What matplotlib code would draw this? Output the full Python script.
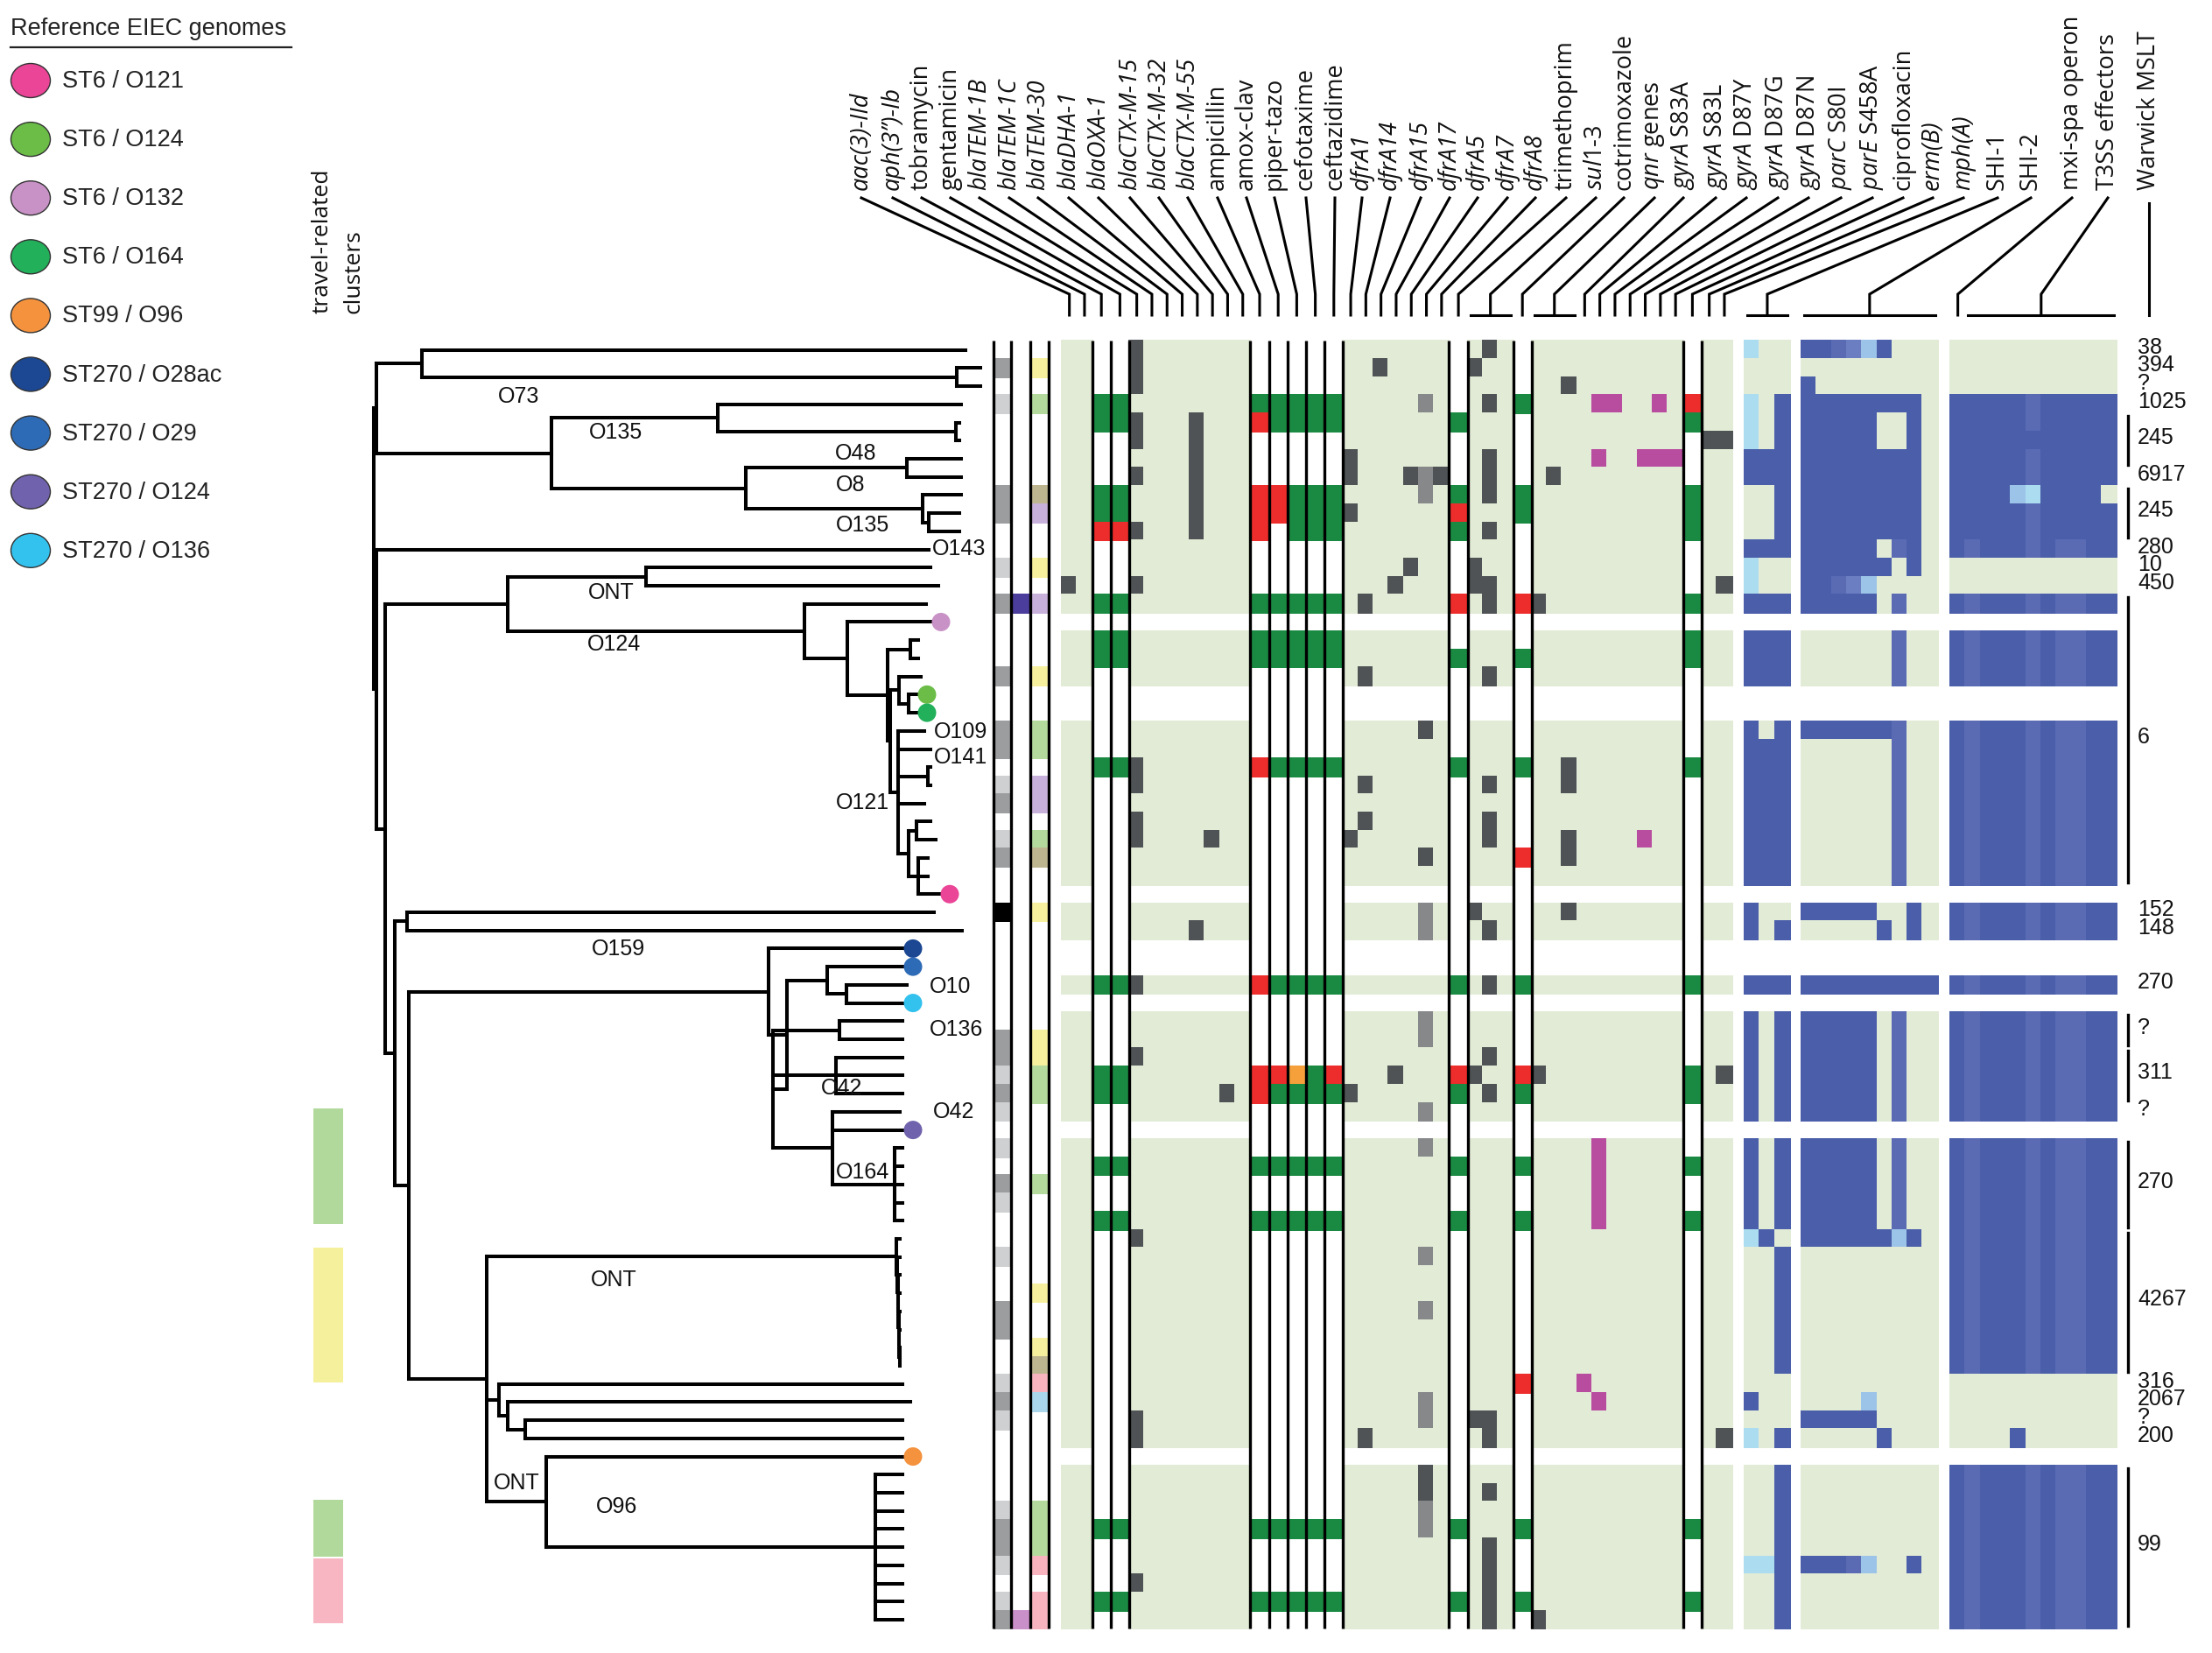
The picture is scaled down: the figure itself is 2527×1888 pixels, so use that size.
import matplotlib
matplotlib.use("Agg")
import matplotlib.pyplot as plt
from matplotlib.patches import Rectangle, Ellipse
import numpy as np

plt.rcParams['font.family'] = ['Liberation Sans', 'DejaVu Sans']
plt.rcParams['mathtext.fontset'] = 'custom'
plt.rcParams['mathtext.rm'] = 'Open Sans'
plt.rcParams['mathtext.it'] = 'Open Sans:italic'

# ======================= DATA =======================
legend_title = "Reference EIEC genomes"
legend_labels = ["ST6 / O121", "ST6 / O124", "ST6 / O132", "ST6 / O164", "ST99 / O96",
                 "ST270 / O28ac", "ST270 / O29", "ST270 / O124", "ST270 / O136"]
legend_colors = ["#ea4597", "#6bbd47", "#c892c6", "#22b05a", "#f4923e",
                 "#1b4793", "#2e6bb6", "#7162ad", "#33c1ee"]

header_labels = [
    "*aac(3)-IId*", "*aph(3\u201d)-Ib*", "tobramycin", "gentamicin",
    "*blaTEM-1B*", "*blaTEM-1C*", "*blaTEM-30*", "*blaDHA-1*", "*blaOXA-1*",
    "*blaCTX-M-15*", "*blaCTX-M-32*", "*blaCTX-M-55*",
    "ampicillin", "amox-clav", "piper-tazo", "cefotaxime", "ceftazidime",
    "*dfrA1*", "*dfrA14*", "*dfrA15*", "*dfrA17*", "*dfrA5*", "*dfrA7*", "*dfrA8*",
    "trimethoprim", "*sul1*-3", "cotrimoxazole", "*qnr* genes",
    "*gyrA* S83A", "*gyrA* S83L", "*gyrA* D87Y", "*gyrA* D87G", "*gyrA* D87N",
    "*parC* S80I", "*parE* S458A", "ciprofloxacin", "*erm(B)*", "*mph(A)*",
    "SHI-1", "SHI-2", "mxi-spa operon", "T3SS effectors", "Warwick MSLT"]
header_ncols = [1, 1, 1, 1, 1, 1, 1, 1, 1, 1, 1, 1, 1, 1, 1, 1, 1,
                1, 1, 1, 1, 1, 1, 1, 1, 3, 1, 3, 1, 1, 1, 1, 1, 1, 1, 1, 1, 1,
                3, 9, 1, 10, 0]

amr_keys = ["aac", "aph", "tob", "gen", "T1B", "T1C", "T30", "DHA", "OXA", "C15", "C32", "C55",
            "amp", "amc", "tzp", "ctx", "caz", "d1", "d14", "d15", "d17", "d5", "d7", "d8",
            "tmp", "s1", "s2", "s3", "sxt", "q1", "q2", "q3",
            "A83A", "A83L", "A87Y", "A87G", "A87N", "C80I", "E458", "cip", "erm", "mph"]
amr_kind = "ggppggggggggpppppgggggggpgggpggggggggggpgg"

n_rows = 71
ref_rows = [15, 19, 20, 30, 33, 34, 36, 43, 61]
ref_type = [2, 1, 3, 0, 5, 6, 8, 7, 4]

amr = [
    "T1B,s2=D",
    "T1B,d15,s1=D",
    "T1B,q3=D",
    "tob,gen,amp,amc,tzp,ctx,caz,sxt=G d7=m s2=D A83L,A87Y,C80I=M cip=R",
    "tob,gen,amc,tzp,ctx,caz,tmp,cip=G amp=R T1B,OXA=D",
    "T1B,OXA,erm,mph=D",
    "OXA,d1,s2=D A83L,A87N,C80I,E458=M",
    "T1B,OXA,d1,d5,d8,s2,q2=D d7=m",
    "tob,gen,tzp,ctx,caz,tmp,sxt,cip=G amp,amc=R OXA,s2=D d7=m",
    "tob,gen,tzp,ctx,caz,sxt,cip=G amp,amc,tmp=R OXA,d1=D",
    "tzp,ctx,caz,tmp,cip=G tob,gen,amp=R T1B,OXA,s2=D",
    "",
    "d5,s1=D",
    "aac,T1B,d17,s1,s2,mph=D",
    "tob,gen,amp,amc,tzp,ctx,caz,cip=G tmp,sxt=R d14,s2,q1=D",
    "",
    "tob,gen,amp,amc,tzp,ctx,caz,cip=G",
    "tob,gen,amp,amc,tzp,ctx,caz,tmp,sxt,cip=G",
    "d14,s2=D",
    "", "",
    "d7=D",
    "",
    "tob,gen,amc,tzp,ctx,caz,tmp,sxt,cip=G amp=R T1B,q3=D",
    "T1B,d14,s2,q3=D",
    "",
    "T1B,d14,s2=D",
    "T1B,C15,d1,s2,q3=D A87N=M",
    "d7,q3=D sxt=R",
    "",
    "",
    "s1,q3=D d7=m",
    "OXA,s2=D d7=m",
    "", "",
    "tob,gen,amc,tzp,ctx,caz,tmp,sxt,cip=G amp=R T1B,s2=D",
    "",
    "d7=m",
    "d7=m",
    "T1B,s2=D",
    "tob,gen,ctx,cip=G amp,amc,caz,tmp,sxt=R tzp=O d17,s1,q1,mph=D",
    "tob,gen,amc,tzp,ctx,caz,tmp,sxt,cip=G amp=R C32,d1,s2=D",
    "d7=m",
    "",
    "d7=m A83L=M",
    "tob,gen,amp,amc,tzp,ctx,caz,tmp,sxt,cip=G A83L=M",
    "A83L=M",
    "A83L=M",
    "tob,gen,amp,amc,tzp,ctx,caz,tmp,sxt,cip=G A83L=M",
    "T1B=D",
    "d7=m",
    "", "",
    "d7=m",
    "", "", "",
    "sxt=R A83A=M",
    "d7=m A83L=M",
    "T1B,s1,s2=D d7=m",
    "T1B,d14,s2,mph=D",
    "",
    "d7=D",
    "d7,s2=D",
    "d7=m",
    "tob,gen,amp,amc,tzp,ctx,caz,tmp,sxt,cip=G d7=m",
    "s2=D",
    "s2=D",
    "T1B,s2=D",
    "tob,gen,amp,amc,tzp,ctx,caz,tmp,sxt,cip=G s2=D",
    "s2,q1=D",
]

shi1 = (["L..", "...", "...", "L.B", "L.B", "L.B", "BBB", "BBB", "..B", "..B", "..B", "BBB",
         "L..", "L..", "BBB", "---", "BBB", "BBB", "BBB", "---", "---", "B.B"] + ["BBB"] * 8 +
        ["---", "B..", "B.B", "---", "---", "BBB", "---"] + ["B.B"] * 6 + ["---"] + ["B.B"] * 5 +
        ["LB."] + ["..B"] * 7 + ["...", "B..", "...", "L.B", "---"] + ["..B"] * 5 +
        ["LLB", "..B", "..B", "..B"])
shi2 = (["BBbclB...", ".........", "B........", "BBBBBBBB.", "BBBBB..B.", "BBBBB..B."] +
        ["BBBBBBBB."] * 5 + ["BBBBB.bB.", "BBBBBB.B.", "BBbcl....", "BBBBB.b..", "---------"] +
        ["......b.."] * 3 + ["---------"] * 2 + ["BBBBBBb.."] + ["......b.."] * 8 +
        ["---------", "BBBBB..B.", ".....B.B.", "---------", "---------", "BBBBBBBBB", "---------"] +
        ["BBBBB.b.."] * 6 + ["---------"] + ["BBBBB.b.."] * 5 + ["BBBBBBlB."] +
        ["........."] * 8 + ["....l....", "BBBBB....", ".....B...", "---------"] +
        ["........."] * 5 + ["BBBbl..B.", ".........", ".........", "........."])
t3_full = "BbBBBbBbbBB"
t3ss = (["..........."] * 3 + ["BBBBBbBBBBB", "BBBBBbBBBBB", "BBBBBBBBBBB", "BBBBBbBBBBB",
         "BBBBBbBBBBB", "BBBBlLBBBB.", "BBBBBbBBBBB", "BBBBBbBBBBB", t3_full,
         "...........", "...........", t3_full, "-----------"] + [t3_full] * 41 +
        ["...........", "...........", "...........", "....B......", "-----------"] + [t3_full] * 9)

annot1 = ".G.g....GG..g.G...G" + "..GG.gG.gG..K......" + "GGgGg.g.Gg..g..GG..gGg....gGGg.gG"
annot2 = "." * 14 + "P" + "." * 55 + "V"
annot3 = ".Y.G....TL..Y.L...Y" + "..GG.LL.GT..Y......" + "YYGG....G.....Y..YTPB.....GGGP.PP"

mslt = [("38", 0, 0), ("394", 1, 1), ("?", 2, 2), ("1025", 3, 3), ("245", 4, 6), ("6917", 7, 7),
        ("245", 8, 10), ("280", 11, 11), ("10", 12, 12), ("450", 13, 13), ("6", 14, 29),
        ("152", 31, 31), ("148", 32, 32), ("270", 35, 35), ("?", 37, 38), ("311", 39, 41),
        ("?", 42, 42), ("270", 44, 48), ("4267", 49, 56), ("316", 57, 57), ("2067", 58, 58),
        ("?", 59, 59), ("200", 60, 60), ("99", 62, 70)]

travel_clusters = [("#b2d99c", 42.3, 48.7), ("#f5f09c", 50.0, 57.4),
                   ("#b2d99c", 63.9, 67.0), ("#f7b6c1", 67.1, 70.7)]

tip_depth = [1103, 1120, 1120, 1098, 1096, 1096, 1098, 1098, 1098, 1096, 1096, 1061,
             1063, 1072, 1058, 1075, 1049, 1049, 1052, 1059, 1059, 1056, 1063, 1063, 1063,
             1056, 1063, 1069, 1060, 1060, 1085, 1067, 1099, 1043, 1043, 1036, 1043, 1031,
             1031, 1031, 1031, 1031, 1028, 1043, 1031, 1031, 1031, 1031, 1031, 1028, 1028,
             1028, 1028, 1028, 1028, 1028, 1028, 1031, 1040, 1031, 1031, 1043, 1031, 1031,
             1031, 1031, 1031, 1031, 1031, 1031, 1031]
st270_clade = [878, [33, [899, [[945, [34, [967, [35, 36]]]],
                                [883, [[959, [37, 38]], [955, [39, 40, 41]],
                                       [951, [42, 43, [1022, [44, 45, 46, 47, 48]]]]]]]]]]
ont_clade = [1024, [49, [1025, [50, [1026, [51, [1026, [52, [1027, [53, [1027, [54, [1028, [55, 56]]]]]]]]]]]]]]
ont_o96_clade = [556, [ont_clade,
                       [570, [57, [580, [58, [600, [59, 60]]]]]],
                       [624, [61, [1000, [62, 63, 64, 65, 66, 67, 68, 69, 70]]]]]]
st6_clade = [919, [14, [968, [15, [1014, [[1040, [16, 17]],
                                          [1017, [[1027, [18, [1038, [19, 20]]]],
                                                  [1026, [21, 22, [1060, [23, 24]], 25,
                                                          [1038, [[1047, [26, 27]],
                                                                  [1049, [28, 29, 30]]]]]]]]]]]]]]
tree = [427, [
    [430, [[482, [0, [1093, [1, 2]]]],
           [630, [[820, [3, [1092, [4, 5]]]],
                  [852, [[1036, [6, 7]], [1054, [8, [1061, [9, 10]]]]]]]]]],
    [430, [11,
           [440, [[580, [[738, [12, 13]], st6_clade]],
                  [451, [[465, [31, 32]],
                         [467, [st270_clade, ont_o96_clade]]]]]]]]]]

tree_labels = ["O73", "O135", "O48", "O8", "O135", "O143", "ONT", "O124", "O109", "O141",
               "O121", "O159", "O10", "O136", "O42", "O42", "O164", "ONT", "ONT", "O96"]

# ======================= LAYOUT =======================
W, H = 2527, 1888
ROW_TOP, ROW_H = 389.3, 20.72
HM_BOTTOM = ROW_TOP + ROW_H * n_rows
GENE_W, PHENO_W = 17.3, 21.2
AMR_X0, SHI1_X0, SHI2_X0, T3_X0 = 1213, 1993, 2058, 2228
ANNOT_LINES = [1135, 1155, 1177, 1198]
MSLT_X, BRACKET_X = 2442, 2431
header_x = [984, 1020, 1053, 1086, 1119, 1153, 1186, 1221, 1255, 1291, 1324, 1357, 1391,
            1424, 1456, 1492, 1525, 1556, 1588, 1623, 1656, 1688, 1722, 1754, 1789, 1823,
            1855, 1890, 1923, 1960, 1995, 2031, 2066, 2103, 2139, 2174, 2208, 2243, 2282,
            2320, 2367, 2408, 2455]
tree_label_pos = [(593, 453), (703, 494), (978, 518), (972, 554), (985, 600), (1065, 627),
                  (698, 677), (701, 736), (1067, 836), (1067, 865), (985, 917), (706, 1084),
                  (1062, 1127), (1062, 1176), (962, 1243), (1066, 1270), (986, 1339),
                  (701, 1462), (590, 1694), (704, 1721)]
tree_label_ha = ["center"] * 5 + ["left"] + ["center"] * 2 + ["left"] * 2 + ["center"] * 2 + \
                ["left"] * 2 + ["center", "left"] + ["center"] * 4

palette = {".": None, "D": "#4f5355", "m": "#868889", "G": "#1a8942", "R": "#ec2d2b",
           "O": "#f5a03a", "M": "#b84d9f", "B": "#4a5ea9", "b": "#5a6bb4", "c": "#6b7ec2",
           "l": "#9cc3e8", "L": "#acdcf0"}
LIGHT_GREEN = "#e2ebd6"
annot1_col = {"g": "#cfd0d1", "G": "#9b9d9e", "K": "#000000"}
annot2_col = {"P": "#4b3d9b", "V": "#c98fc8"}
annot3_col = {"Y": "#f6f09e", "G": "#b3d99c", "T": "#bdb590", "L": "#c7b0d9", "P": "#f7b4bf",
              "B": "#a9d6ea"}

fig = plt.figure(figsize=(W / 100, H / 100), dpi=100)
ax = fig.add_axes([0, 0, 1, 1])
ax.set_xlim(0, W)
ax.set_ylim(H, 0)
ax.axis("off")


def row_top(r):
    return ROW_TOP + ROW_H * r


def row_mid(r):
    return ROW_TOP + ROW_H * (r + 0.5)


amr_edges = [AMR_X0]
for k in amr_kind:
    amr_edges.append(amr_edges[-1] + (GENE_W if k == "g" else PHENO_W))
col_x0 = amr_edges[:-1] + [SHI1_X0 + GENE_W * i for i in range(3)] + \
    [SHI2_X0 + GENE_W * i for i in range(9)] + [T3_X0 + GENE_W * i for i in range(11)]
col_x1 = amr_edges[1:] + [SHI1_X0 + GENE_W * (i + 1) for i in range(3)] + \
    [SHI2_X0 + GENE_W * (i + 1) for i in range(9)] + [T3_X0 + GENE_W * (i + 1) for i in range(11)]

key_index = {k: i for i, k in enumerate(amr_keys)}


def parse(spec):
    out = {}
    for tok in spec.split():
        cols, code = tok.split("=")
        for c in cols.split(","):
            out[key_index[c]] = code
    return out


def cell(x0, x1, r, color):
    ax.add_patch(Rectangle((x0, row_top(r)), x1 - x0, ROW_H, facecolor=color,
                           edgecolor=color, lw=0.3, antialiased=False))


for r in range(n_rows):
    if r in ref_rows:
        continue
    cells = parse(amr[r])
    for i, k in enumerate(amr_kind):
        code = cells.get(i, ".")
        if code != ".":
            cell(amr_edges[i], amr_edges[i + 1], r, palette[code])
        elif k == "g":
            cell(amr_edges[i], amr_edges[i + 1], r, LIGHT_GREEN)
    for block, x0s in ((shi1[r], SHI1_X0), (shi2[r], SHI2_X0), (t3ss[r], T3_X0)):
        for j, code in enumerate(block):
            col = palette.get(code) or LIGHT_GREEN
            cell(x0s + GENE_W * j, x0s + GENE_W * (j + 1), r, col)

for s, cmap, (xa, xb) in ((annot1, annot1_col, (1136, 1154)), (annot2, annot2_col, (1156, 1176)),
                          (annot3, annot3_col, (1178, 1197))):
    s = s.ljust(n_rows, ".")
    for r in range(n_rows):
        if s[r] in cmap:
            cell(xa, xb, r, cmap[s[r]])

vx = set(ANNOT_LINES)
for i, k in enumerate(amr_kind):
    if k == "p":
        vx.add(amr_edges[i])
        vx.add(amr_edges[i + 1])
ax.vlines(sorted(vx), ROW_TOP, HM_BOTTOM, colors="black", lw=2.4)

# header labels + leader lines
start = 0
for lab, nc, lx in zip(header_labels, header_ncols, header_x):
    if nc == 0:
        tx0 = tx1 = txc = lx
    else:
        tx0, tx1 = col_x0[start], col_x1[start + nc - 1]
        txc = (tx0 + tx1) / 2
    start += nc
    if lab.startswith("*") and lab.endswith("*") and lab.count("*") == 2:
        txt, style = lab.strip("*"), "italic"
    elif "*" in lab:
        parts = lab.split("*")
        txt, style = parts[0] + r"$\mathit{" + parts[1] + "}$" + parts[2], "normal"
    else:
        txt, style = lab, "normal"
    ax.text(lx, 217, txt, rotation=90, rotation_mode="anchor", ha="left", va="center",
            fontsize=19.5, family=["Open Sans", "DejaVu Sans"], style=style, color="#111111")
    if nc == 0:
        ax.plot([lx, lx], [232, 360], color="black", lw=2.2)
        continue
    ax.plot([lx, txc, txc], [226, 336, 360], color="black", lw=2.2, solid_joinstyle="miter")
    if nc > 1:
        ax.plot([tx0 + 3, tx1 - 3], [360, 360], color="black", lw=2.2)

for txt, r0, r1 in mslt:
    ym = (row_top(r0) + row_top(r1 + 1)) / 2
    ax.text(MSLT_X, ym - 3, txt, fontsize=18, ha="left", va="center", color="#111111")
    if r1 > r0:
        ax.plot([BRACKET_X, BRACKET_X], [row_top(r0) + 3, row_top(r1 + 1) - 3], color="black", lw=2.4)

TREE_LW = 2.9


def draw(node):
    if isinstance(node, int):
        return row_mid(node), tip_depth[node]
    x, children = node
    ys = []
    for ch in children:
        cy, cx = draw(ch)
        ax.plot([x, cx], [cy, cy], color="black", lw=TREE_LW, solid_capstyle="projecting")
        ys.append(cy)
    ax.plot([x, x], [min(ys), max(ys)], color="black", lw=TREE_LW, solid_capstyle="projecting")
    return (min(ys) + max(ys)) / 2, x


draw(tree)
for r, t in zip(ref_rows, ref_type):
    ax.add_patch(Ellipse((tip_depth[r], row_mid(r)), 21, 21, facecolor=legend_colors[t],
                         edgecolor="none", zorder=5))
for lab, (x, y), ha in zip(tree_labels, tree_label_pos, tree_label_ha):
    ax.text(x, y, lab, fontsize=18, ha=ha, va="center", color="#111111")

for col, r0, r1 in travel_clusters:
    ax.add_patch(Rectangle((358, row_top(r0)), 34, row_top(r1) - row_top(r0), facecolor=col,
                           edgecolor="none"))
ax.text(368, 358, "travel-related", rotation=90, rotation_mode="anchor", ha="left", va="center",
        fontsize=19, family=["Open Sans", "DejaVu Sans"], color="#111111")
ax.text(404, 358, "clusters", rotation=90, rotation_mode="anchor", ha="left", va="center",
        fontsize=19, family=["Open Sans", "DejaVu Sans"], color="#111111")

ax.text(12, 40, legend_title, fontsize=19.5, ha="left", va="baseline", color="#222222")
ax.plot([12, 333], [54, 54], color="#222222", lw=1.6)
for i, (lab, col) in enumerate(zip(legend_labels, legend_colors)):
    yc = 92 + 67.1 * i
    ax.add_patch(Ellipse((35, yc), 45, 39, facecolor=col, edgecolor="#333333", lw=1.0))
    ax.text(71, yc + 1, lab, fontsize=19.5, ha="left", va="center", color="#222222")

fig.savefig("out.png", dpi=100)
